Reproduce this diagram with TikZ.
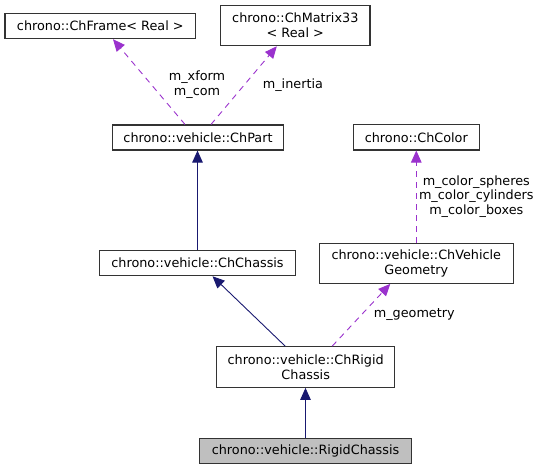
\documentclass[tikz,border=0pt]{standalone}
\usepackage{fontspec}
\setmainfont{DejaVu Sans}
\usetikzlibrary{arrows.meta}
\definecolor{boxline}{HTML}{333333}
\definecolor{inhcol}{HTML}{191970}
\definecolor{usecol}{HTML}{9A32CD}
\definecolor{curcls}{HTML}{BFBFBF}

\begin{document}
\begin{tikzpicture}[x=1pt, y=-1pt,
cls/.style={draw=boxline, line width=1.1pt, fill=white, align=center,
  inner sep=0pt, font=\fontsize{12.8}{15}\selectfont},
lbl/.style={align=center, inner sep=0pt, font=\fontsize{12.8}{14.7}\selectfont},
inh/.style={draw=inhcol, line width=0.9pt, -{Triangle[length=12pt, width=10.5pt]}},
use/.style={draw=usecol, line width=0.9pt, dash pattern=on 6pt off 5pt,
  -{Triangle[length=12pt, width=10.5pt]}}]

\useasboundingbox (0,0) rectangle (541,469);

\path[every node/.style={cls}]
(100.3,26) node[minimum width=190.7pt, minimum height=25.3pt] (frame)
{chrono::ChFrame< Real >}
(295.3,25.7) node[minimum width=149.3pt, minimum height=40pt] (mat)
{chrono::ChMatrix33\\< Real >}
(198,137.5) node[minimum width=170.6pt, minimum height=25pt] (part)
{chrono::vehicle::ChPart}
(416.3,137.3) node[minimum width=126pt, minimum height=25.3pt] (color)
{chrono::ChColor}
(197.5,263.2) node[minimum width=196.4pt, minimum height=25pt] (chassis)
{chrono::vehicle::ChChassis}
(416.3,263.3) node[minimum width=194pt, minimum height=40pt] (geom)
{chrono::vehicle::ChVehicle\\Geometry}
(305.7,367) node[minimum width=178pt, minimum height=40.6pt] (rigid)
{chrono::vehicle::ChRigid\\Chassis}
(305.5,450.7) node[minimum width=212.4pt, minimum height=25.3pt, fill=curcls] (rc)
{chrono::vehicle::RigidChassis}
;

\draw[inh] (chassis.north) -- (chassis.north |- part.south);
\draw[inh] ([xshift=-20.5pt]rigid.north) -- ([xshift=15pt]chassis.south);
\draw[inh] (rc.north) -- (rc.north |- rigid.south);

\draw[use] ([xshift=-13pt]part.north) -- node[lbl, xshift=48pt, yshift=-3pt] (lxform)
{m\_xform\\m\_com} ([xshift=12.7pt]frame.south);
\draw[use] ([xshift=13pt]part.north) -- node[lbl, xshift=49pt] (linertia)
{m\_inertia} ([xshift=-18.5pt]mat.south);
\draw[use] (geom.north) -- node[lbl, xshift=60pt] (lcolor)
{m\_color\_spheres\\m\_color\_cylinders\\m\_color\_boxes} (color.south);
\draw[use] ([xshift=26.5pt]rigid.north) -- node[lbl, xshift=53pt] (lgeom)
{m\_geometry} ([xshift=-26pt]geom.south);

\end{tikzpicture}
\end{document}
